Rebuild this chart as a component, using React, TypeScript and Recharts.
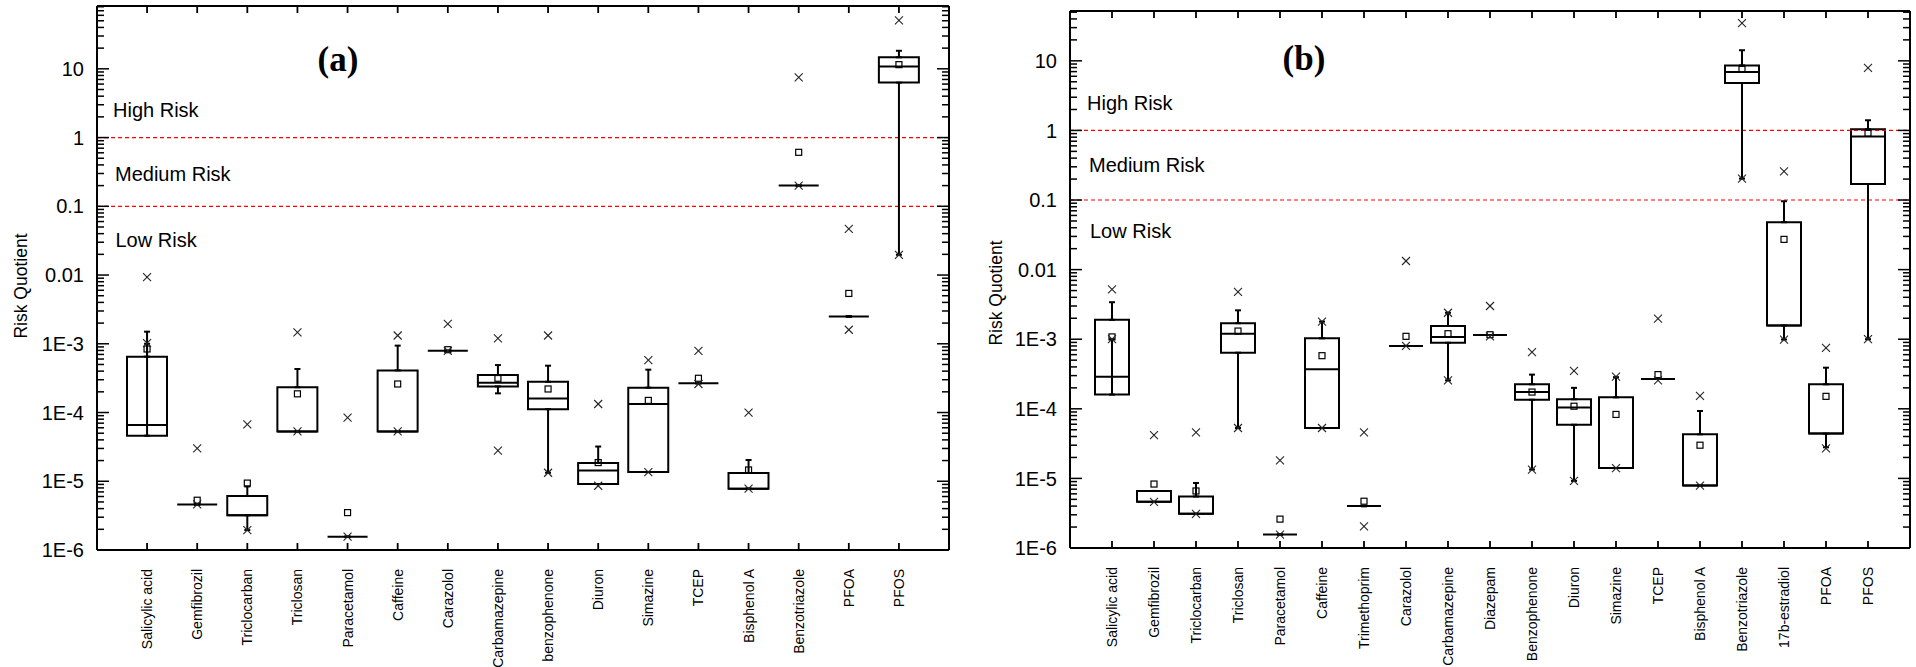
import React from 'react';
import { ComposedChart, Bar, Scatter, XAxis, YAxis, ReferenceLine, ErrorBar } from 'recharts';

const FONT = '"Liberation Sans", Arial, Helvetica, sans-serif';
const SERIF = '"Liberation Serif", "Times New Roman", serif';

// ---------- Panel (a) ----------
const categoriesA = ['Salicylic acid', 'Gemfibrozil', 'Triclocarban', 'Triclosan', 'Paracetamol', 'Caffeine', 'Carazolol', 'Carbamazepine', 'benzophenone', 'Diuron', 'Simazine', 'TCEP', 'Bisphenol A', 'Benzotriazole', 'PFOA', 'PFOS'];
const q1A = [4.6e-5, 4.6e-6, 3.2e-6, 5.3e-5, 1.56e-6, 5.3e-5, 7.9e-4, 2.4e-4, 1.12e-4, 9.1e-6, 1.36e-5, 2.67e-4, 7.8e-6, 0.2, 2.5e-3, 6.3];
const medianA = [6.6e-5, 4.6e-6, 3.2e-6, 5.3e-5, 1.56e-6, 5.3e-5, 7.9e-4, 2.7e-4, 1.6e-4, 1.43e-5, 1.33e-4, 2.67e-4, 7.8e-6, 0.2, 2.5e-3, 10.8];
const q3A = [6.5e-4, 4.6e-6, 6.1e-6, 2.33e-4, 1.56e-6, 4.1e-4, 7.9e-4, 3.5e-4, 2.8e-4, 1.85e-5, 2.3e-4, 2.67e-4, 1.32e-5, 0.2, 2.5e-3, 14.7];
const whiskerLowA = [1.0e-3, 4.6e-6, 1.95e-6, 5.3e-5, 1.56e-6, 5.3e-5, 7.9e-4, 1.9e-4, 1.33e-5, 9.1e-6, 1.36e-5, 2.67e-4, 7.8e-6, 0.2, 2.5e-3, 0.0197];
const whiskerHighA = [1.5e-3, 4.6e-6, 8.4e-6, 4.3e-4, 1.56e-6, 9.4e-4, 7.9e-4, 4.9e-4, 4.8e-4, 3.2e-5, 4.2e-4, 2.67e-4, 2.04e-5, 0.2, 2.5e-3, 18.3];
const meanA = [8.4e-4, 5.3e-6, 9.4e-6, 1.87e-4, 3.5e-6, 2.6e-4, 8.2e-4, 3.15e-4, 2.2e-4, 1.87e-5, 1.5e-4, 3.15e-4, 1.46e-5, 0.61, 5.4e-3, 11.5];
const crossHighA = [9.3e-3, 3.0e-5, 6.7e-5, 1.46e-3, 8.4e-5, 1.32e-3, 1.95e-3, 1.2e-3, 1.32e-3, 1.33e-4, 5.8e-4, 7.9e-4, 1.0e-4, 7.5, 0.047, 50.7];
const crossLowA = [1.02e-3, 4.6e-6, 1.95e-6, 5.3e-5, 1.56e-6, 5.3e-5, 7.9e-4, 2.8e-5, 1.33e-5, 8.6e-6, 1.36e-5, 2.6e-4, 7.8e-6, 0.2, 1.6e-3, 0.0197];

// ---------- Panel (b) ----------
const categoriesB = ['Salicylic acid', 'Gemfibrozil', 'Triclocarban', 'Triclosan', 'Paracetamol', 'Caffeine', 'Trimethoprim', 'Carazolol', 'Carbamazepine', 'Diazepam', 'Benzophenone', 'Diuron', 'Simazine', 'TCEP', 'Bisphenol A', 'Benzotriazole', '17b-estradiol', 'PFOA', 'PFOS'];
const q1B = [1.6e-4, 4.6e-6, 3.1e-6, 6.4e-4, 1.56e-6, 5.3e-5, 4.0e-6, 8.0e-4, 8.9e-4, 1.15e-3, 1.35e-4, 5.9e-5, 1.41e-5, 2.68e-4, 7.9e-6, 4.8, 1.58e-3, 4.4e-5, 0.17];
const medianB = [2.9e-4, 4.6e-6, 3.1e-6, 1.2e-3, 1.56e-6, 3.7e-4, 4.0e-6, 8.0e-4, 1.08e-3, 1.15e-3, 1.74e-4, 1.04e-4, 1.41e-5, 2.68e-4, 7.9e-6, 6.9, 1.58e-3, 4.4e-5, 0.82];
const q3B = [1.9e-3, 6.6e-6, 5.5e-6, 1.7e-3, 1.56e-6, 1.03e-3, 4.0e-6, 8.0e-4, 1.55e-3, 1.15e-3, 2.25e-4, 1.37e-4, 1.46e-4, 2.68e-4, 4.3e-5, 8.6, 0.048, 2.25e-4, 1.04];
const whiskerLowB = [1.0e-3, 4.6e-6, 3.1e-6, 5.3e-5, 1.56e-6, 5.3e-5, 4.0e-6, 8.0e-4, 2.56e-4, 1.15e-3, 1.34e-5, 9.2e-6, 1.41e-5, 2.68e-4, 7.9e-6, 0.203, 9.9e-4, 2.8e-5, 1.0e-3];
const whiskerHighB = [3.4e-3, 6.6e-6, 8.6e-6, 2.6e-3, 1.56e-6, 1.79e-3, 4.0e-6, 8.0e-4, 2.4e-3, 1.15e-3, 3.1e-4, 2.0e-4, 2.85e-4, 2.68e-4, 9.3e-5, 14.2, 0.096, 3.9e-4, 1.4];
const meanB = [1.08e-3, 8.3e-6, 6.6e-6, 1.31e-3, 2.6e-6, 5.8e-4, 4.7e-6, 1.1e-3, 1.2e-3, 1.16e-3, 1.74e-4, 1.09e-4, 8.3e-5, 3.1e-4, 3.0e-5, 7.55, 0.0272, 1.51e-4, 0.91];
const crossHighB = [5.2e-3, 4.2e-5, 4.6e-5, 4.8e-3, 1.82e-5, 1.79e-3, 4.6e-5, 0.0133, 2.4e-3, 3.0e-3, 6.5e-4, 3.5e-4, 2.9e-4, 1.98e-3, 1.53e-4, 34.9, 0.258, 7.5e-4, 7.9];
const crossLowB = [1.0e-3, 4.6e-6, 3.1e-6, 5.3e-5, 1.56e-6, 5.3e-5, 2.05e-6, 8.0e-4, 2.56e-4, 1.1e-3, 1.34e-5, 9.2e-6, 1.4e-5, 2.56e-4, 7.9e-6, 0.203, 9.9e-4, 2.7e-5, 1.0e-3];

// ---------- Axis ticks ----------
const majorTicks = [1e-6, 1e-5, 1e-4, 1e-3, 1e-2, 1e-1, 1, 10];
const majorLabels = ['1E-6', '1E-5', '1E-4', '1E-3', '0.01', '0.1', '1', '10'];
const minorMultipliers = [2, 3, 4, 5, 6, 7, 8, 9];
const riskThresholds = [1, 0.1];
const riskLabels = ['High Risk', 'Medium Risk', 'Low Risk'];

function buildTicks(max: number): number[] {
  const t: number[] = [];
  majorTicks.forEach((m) => {
    t.push(m);
    minorMultipliers.forEach((k) => {
      const v = m * k;
      if (v <= max) t.push(v);
    });
  });
  return t;
}

function majorIndex(v: number): number {
  return majorTicks.findIndex((m) => Math.abs(v - m) / m < 1e-6);
}

function LeftTick(props: any) {
  const { x, y, payload } = props;
  const mi = majorIndex(payload.value);
  const major = mi >= 0;
  return (
    <g>
      <line x1={x} y1={y} x2={x + (major ? 12 : 7)} y2={y} stroke="#000" strokeWidth={1.5} />
      {major && (
        <text x={x - 13} y={y} dy="0.36em" textAnchor="end" fontSize={20} fontFamily={FONT} fill="#000">
          {majorLabels[mi]}
        </text>
      )}
    </g>
  );
}

function RightTick(props: any) {
  const { x, y, payload } = props;
  const major = majorIndex(payload.value) >= 0;
  return <line x1={x} y1={y} x2={x - (major ? 12 : 7)} y2={y} stroke="#000" strokeWidth={1.5} />;
}

function BottomTick(props: any) {
  const { x, y, payload } = props;
  return (
    <g>
      <line x1={x} y1={y} x2={x} y2={y - 7} stroke="#000" strokeWidth={1.8} />
      <text
        transform={`translate(${x},${y + 19}) rotate(-90)`}
        dy="0.36em"
        textAnchor="end"
        fontSize={14}
        fontFamily={FONT}
        fill="#000"
      >
        {payload.value}
      </text>
    </g>
  );
}

function TopTick(props: any) {
  const { x, y } = props;
  return <line x1={x} y1={y} x2={x} y2={y + 7} stroke="#000" strokeWidth={1.8} />;
}

const ok = (v: any) => typeof v === 'number' && isFinite(v);

const CrossShape = (p: any) => {
  if (!ok(p.cx) || !ok(p.cy)) return <g />;
  const s = 4;
  return (
    <g>
      <line x1={p.cx - s} y1={p.cy - s} x2={p.cx + s} y2={p.cy + s} stroke="#222" strokeWidth={1.1} />
      <line x1={p.cx - s} y1={p.cy + s} x2={p.cx + s} y2={p.cy - s} stroke="#222" strokeWidth={1.1} />
    </g>
  );
};

const SquareShape = (p: any) => {
  if (!ok(p.cx) || !ok(p.cy)) return <g />;
  return <rect x={p.cx - 3} y={p.cy - 3} width={6} height={6} fill="none" stroke="#000" strokeWidth={1.2} />;
};

const EmptyShape = () => <g />;

type PanelProps = {
  categories: string[];
  q1: number[];
  median: number[];
  q3: number[];
  whiskerLow: number[];
  whiskerHigh: number[];
  mean: number[];
  crossHigh: number[];
  crossLow: number[];
  width: number;
  height: number;
  margin: { top: number; right: number; bottom: number; left: number };
  yWidth: number;
  xHeight: number;
  pad: number;
  barSize: number;
  yMax: number;
};

function Panel(p: PanelProps) {
  const data = p.categories.map((name, i) => ({
    name,
    q1: p.q1[i],
    median: p.median[i],
    q3: p.q3[i],
    whiskerLow: p.whiskerLow[i],
    whiskerHigh: p.whiskerHigh[i],
    mean: p.mean[i],
    crossHigh: p.crossHigh[i],
    crossLow: p.crossLow[i],
  }));
  const ticks = buildTicks(p.yMax);
  const domain: [number, number] = [1e-6, p.yMax];
  const MedianShape = (s: any) => {
    if (!ok(s.cx) || !ok(s.cy)) return <g />;
    return <line x1={s.cx - p.barSize / 2} y1={s.cy} x2={s.cx + p.barSize / 2} y2={s.cy} stroke="#000" strokeWidth={2} />;
  };
  const axisLine = { stroke: '#000', strokeWidth: 2 };
  return (
    <ComposedChart width={p.width} height={p.height} data={data} margin={p.margin}>
      <XAxis
        xAxisId="b"
        dataKey="name"
        type="category"
        orientation="bottom"
        height={p.xHeight}
        padding={{ left: p.pad, right: p.pad }}
        interval={0}
        tickSize={0}
        tickMargin={0}
        tickLine={false}
        axisLine={axisLine}
        tick={<BottomTick />}
      />
      <XAxis
        xAxisId="t"
        dataKey="name"
        type="category"
        orientation="top"
        height={1}
        padding={{ left: p.pad, right: p.pad }}
        interval={0}
        tickSize={0}
        tickMargin={0}
        tickLine={false}
        axisLine={axisLine}
        tick={<TopTick />}
      />
      <YAxis
        yAxisId="l"
        scale="log"
        type="number"
        domain={domain}
        allowDataOverflow
        ticks={ticks}
        interval={0}
        width={p.yWidth}
        tickSize={0}
        tickMargin={0}
        tickLine={false}
        axisLine={axisLine}
        tick={<LeftTick />}
      />
      <YAxis
        yAxisId="r"
        orientation="right"
        scale="log"
        type="number"
        domain={domain}
        allowDataOverflow
        ticks={ticks}
        interval={0}
        width={1}
        tickSize={0}
        tickMargin={0}
        tickLine={false}
        axisLine={axisLine}
        tick={<RightTick />}
      />
      {riskThresholds.map((t) => (
        <ReferenceLine key={t} xAxisId="b" yAxisId="l" y={t} stroke="#ff0000" strokeWidth={1.2} strokeDasharray="4 3" />
      ))}
      <Bar
        xAxisId="b"
        yAxisId="l"
        dataKey={(d: any) => [d.q1, d.q3]}
        barSize={p.barSize}
        fill="#fff"
        stroke="#000"
        strokeWidth={2}
        isAnimationActive={false}
      />
      <Scatter xAxisId="b" yAxisId="l" dataKey="q3" shape={EmptyShape} isAnimationActive={false}>
        <ErrorBar
          dataKey={(d: any) => [0, d.whiskerHigh - d.q3]}
          direction="y"
          width={3}
          stroke="#000"
          strokeWidth={2}
          isAnimationActive={false}
        />
      </Scatter>
      <Scatter xAxisId="b" yAxisId="l" dataKey="q1" shape={EmptyShape} isAnimationActive={false}>
        <ErrorBar
          dataKey={(d: any) => [d.q1 - d.whiskerLow, 0]}
          direction="y"
          width={3}
          stroke="#000"
          strokeWidth={2}
          isAnimationActive={false}
        />
      </Scatter>
      <Scatter xAxisId="b" yAxisId="l" dataKey="median" shape={MedianShape} isAnimationActive={false} />
      <Scatter xAxisId="b" yAxisId="l" dataKey="mean" shape={SquareShape} isAnimationActive={false} />
      <Scatter xAxisId="b" yAxisId="l" dataKey="crossHigh" shape={CrossShape} isAnimationActive={false} />
      <Scatter xAxisId="b" yAxisId="l" dataKey="crossLow" shape={CrossShape} isAnimationActive={false} />
    </ComposedChart>
  );
}

export default function App() {
  return (
    <div style={{ position: 'absolute', left: 0, top: 0, width: 1916, height: 667, background: '#fff', overflow: 'hidden' }}>
      <div style={{ position: 'absolute', left: 0, top: 0 }}>
        <Panel
          categories={categoriesA}
          q1={q1A}
          median={medianA}
          q3={q3A}
          whiskerLow={whiskerLowA}
          whiskerHigh={whiskerHighA}
          mean={meanA}
          crossHigh={crossHighA}
          crossLow={crossLowA}
          width={960}
          height={667}
          margin={{ top: 5, right: 10, bottom: 0, left: 0 }}
          yWidth={97}
          xHeight={117}
          pad={25}
          barSize={40}
          yMax={82}
        />
      </div>
      <div style={{ position: 'absolute', left: 960, top: 0 }}>
        <Panel
          categories={categoriesB}
          q1={q1B}
          median={medianB}
          q3={q3B}
          whiskerLow={whiskerLowB}
          whiskerHigh={whiskerHighB}
          mean={meanB}
          crossHigh={crossHighB}
          crossLow={crossLowB}
          width={956}
          height={667}
          margin={{ top: 10, right: 5, bottom: 0, left: 0 }}
          yWidth={110}
          xHeight={119}
          pad={21}
          barSize={34}
          yMax={52}
        />
      </div>
      <svg width={1916} height={667} style={{ position: 'absolute', left: 0, top: 0, pointerEvents: 'none' }}>
        <text x={338} y={71} textAnchor="middle" fontSize={35} fontWeight="bold" fontFamily={SERIF} fill="#000">(a)</text>
        <text x={1304} y={70} textAnchor="middle" fontSize={35} fontWeight="bold" fontFamily={SERIF} fill="#000">(b)</text>
        <text x={113} y={117} fontSize={20} fontFamily={FONT} fill="#000">{riskLabels[0]}</text>
        <text x={115} y={181} fontSize={20} fontFamily={FONT} fill="#000">{riskLabels[1]}</text>
        <text x={115.5} y={247} fontSize={20} fontFamily={FONT} fill="#000">{riskLabels[2]}</text>
        <text x={1087} y={110} fontSize={20} fontFamily={FONT} fill="#000">{riskLabels[0]}</text>
        <text x={1089} y={172} fontSize={20} fontFamily={FONT} fill="#000">{riskLabels[1]}</text>
        <text x={1090} y={238} fontSize={20} fontFamily={FONT} fill="#000">{riskLabels[2]}</text>
        <text transform="translate(21,286) rotate(-90)" dy="0.36em" textAnchor="middle" fontSize={17.5} fontFamily={FONT} fill="#000">Risk Quotient</text>
        <text transform="translate(995.5,293) rotate(-90)" dy="0.36em" textAnchor="middle" fontSize={17.5} fontFamily={FONT} fill="#000">Risk Quotient</text>
      </svg>
    </div>
  );
}
